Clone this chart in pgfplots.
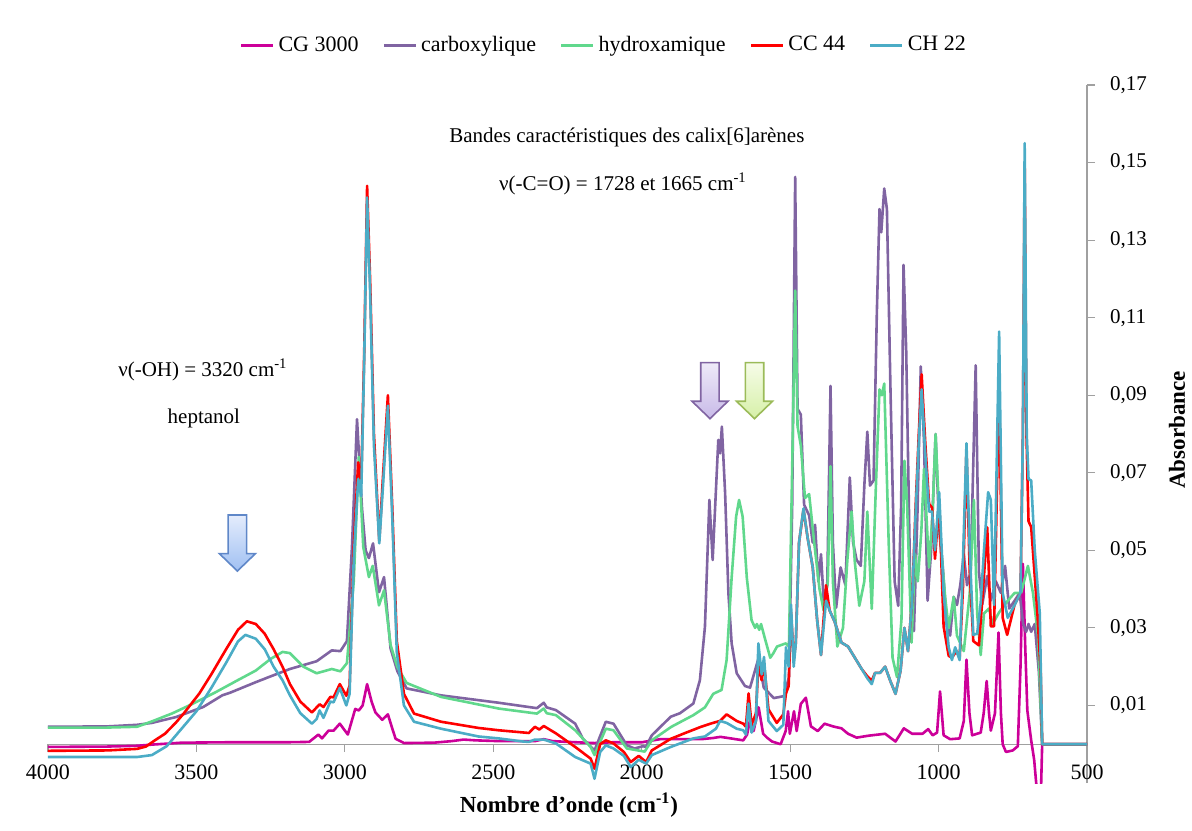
\documentclass[border=0pt]{standalone}
\usepackage{fontspec}
\setmainfont{Liberation Serif}
\usepackage{pgfplots}
\pgfplotsset{compat=1.18}
\definecolor{cg}{RGB}{204,0,153}
\definecolor{carb}{RGB}{128,100,162}
\definecolor{hydro}{RGB}{96,216,140}
\definecolor{cc}{RGB}{255,0,0}
\definecolor{ch}{RGB}{75,172,198}
\definecolor{axisgray}{RGB}{160,160,160}
\definecolor{arBd}{RGB}{95,135,200}\definecolor{arBt}{RGB}{228,236,252}\definecolor{arBb}{RGB}{160,192,242}
\definecolor{arPd}{RGB}{128,100,162}\definecolor{arPt}{RGB}{238,234,248}\definecolor{arPb}{RGB}{200,186,232}
\definecolor{arGd}{RGB}{155,187,89}\definecolor{arGt}{RGB}{246,252,232}\definecolor{arGb}{RGB}{214,240,168}
\begin{document}
\begin{tikzpicture}
\begin{axis}[
  at={(0,0)}, anchor=south west,
  scale only axis, width=519.5pt, height=349pt,
  x dir=reverse, xmin=500, xmax=4000, ymin=-0.01, ymax=0.17,
  enlargelimits=false, clip=true,
  axis x line=middle, axis y line=right,
  axis line style={draw=axisgray, line width=0.6pt, -},
  every inner x axis line/.append style={-},
  every outer y axis line/.append style={-},
  hide obscured x ticks=false,
  tick align=outside, major tick length=4pt,
  tick style={draw=axisgray, line width=0.6pt},
  xtick={500,1000,1500,2000,2500,3000,3500,4000},
  ytick={0.01,0.03,0.05,0.07,0.09,0.11,0.13,0.15,0.17},
  /pgf/number format/assume math mode=true,
  xticklabel style={font=\fontsize{11}{13}\selectfont, /pgf/number format/1000 sep={}, yshift=-3pt},
  yticklabel style={font=\fontsize{10.5}{12}\selectfont, xshift=4pt, /pgf/number format/.cd, use comma, fixed, fixed zerofill, precision=2},
  xlabel={Nombre d’onde (cm\textsuperscript{-1})},
  ylabel={Absorbance},
  every axis x label/.style={at={(axis description cs:0.5014,0)}, anchor=center, yshift=-11pt, font=\fontsize{11.5}{13}\selectfont\bfseries},
  every axis y label/.style={at={([xshift=45pt]axis description cs:1,0.5057)}, anchor=center, rotate=90, font=\fontsize{11.5}{13}\selectfont\bfseries},
  legend style={draw=none, fill=none, legend columns=-1, at={(axis description cs:0.536,1.057)}, anchor=center, font=\fontsize{11}{13}\selectfont, /tikz/every even column/.append style={column sep=10pt}},
  legend image code/.code={\draw[#1, line width=1.3pt] (0pt,0pt) -- (16pt,0pt);},
  every axis plot/.append style={line width=1.3pt, line join=round},
]
% CG 3000
\addplot[cg] coordinates {
(4000,-0.0007) (3800,-0.0006) (3700,-0.0004) (3650,-0.0001) (3550,0.0004) (3400,0.0005) (3200,0.0005) (3120,0.0006)
(3089,0.0025) (3077,0.0015) (3055,0.0035) (3038,0.0035) (3017,0.0053) (2990,0.0025) (2965,0.0091) (2953,0.0087)
(2940,0.010) (2925,0.0155) (2910,0.011) (2897,0.0082) (2874,0.0063) (2855,0.0077) (2840,0.004) (2829,0.0014)
(2800,0.0003) (2700,0.0004) (2640,0.0008) (2600,0.0012) (2560,0.0010) (2480,0.0008) (2360,0.0008) (2330,0.0013)
(2300,0.0008) (2250,0.0006) (2159,0.0003) (2100,0.0005) (2000,0.0005) (1938,0.0013) (1800,0.0013) (1760,0.0016)
(1735,0.0019) (1700,0.0015) (1658,0.001) (1645,0.0025) (1635,0.0063) (1623,0.0034) (1606,0.0095) (1591,0.0027)
(1578,0.0017) (1561,0.0007) (1532,0.0) (1515,0.0034) (1507,0.0085) (1501,0.0027) (1487,0.0085) (1478,0.0034)
(1464,0.0104) (1447,0.012) (1430,0.0046) (1407,0.0034) (1384,0.0053) (1356,0.0046) (1327,0.0041) (1305,0.0027)
(1276,0.0017) (1236,0.0022) (1180,0.0027) (1145,0.0007) (1117,0.0041) (1089,0.0027) (1054,0.0027) (1035,0.0039)
(1020,0.0023) (1005,0.003) (995,0.0136) (983,0.0023) (961,0.0013) (929,0.0015) (915,0.006) (906,0.0218)
(896,0.008) (887,0.0023) (858,0.003) (848,0.008) (838,0.0163) (830,0.008) (824,0.0035) (810,0.008) (798,0.0288)
(790,0.008) (784,0.0) (773,-0.002) (750,-0.0016) (733,-0.0005) (724,0.02) (716,0.0465) (708,0.025) (701,0.0087)
(688,0.001) (678,-0.004) (670,-0.011) (655,-0.012) (651,0) (500,0)
};
\addlegendentry{CG 3000}
% carboxylique
\addplot[carb] coordinates {
(4000,0.0045) (3800,0.0046) (3700,0.005) (3650,0.0055) (3569,0.007) (3477,0.0096) (3413,0.0126) (3386,0.0133)
(3300,0.016) (3250,0.0175) (3185,0.0194) (3095,0.0214) (3044,0.0242) (3015,0.024) (2993,0.0266) (2976,0.0509)
(2959,0.0838) (2942,0.0606) (2930,0.050) (2919,0.048) (2905,0.0518) (2885,0.0392) (2868,0.0431) (2846,0.0247)
(2823,0.0188) (2792,0.0144) (2676,0.0126) (2482,0.0107) (2353,0.0093) (2330,0.0107) (2320,0.0095) (2289,0.0088)
(2224,0.0053) (2198,0.0014) (2159,-0.0016) (2121,0.0058) (2095,0.0053) (2050,-0.0003) (2024,-0.0011) (1995,-0.0005)
(1986,-0.0007) (1966,0.0023) (1902,0.0071) (1871,0.0080) (1826,0.0105) (1804,0.0165) (1787,0.0303) (1772,0.063)
(1761,0.0475) (1742,0.0785) (1736,0.075) (1730,0.0819) (1719,0.0647) (1708,0.039) (1697,0.026) (1680,0.0183)
(1652,0.015) (1635,0.0146) (1606,0.0223) (1589,0.0146) (1555,0.0119) (1521,0.0124) (1504,0.0173) (1493,0.0618)
(1483,0.1463) (1475,0.0865) (1464,0.085) (1453,0.0618) (1436,0.059) (1424,0.052) (1416,0.0566) (1405,0.042)
(1396,0.049) (1387,0.037) (1375,0.041) (1364,0.0924) (1356,0.052) (1345,0.0352) (1330,0.0456) (1314,0.0411)
(1299,0.0688) (1288,0.052) (1276,0.0475) (1262,0.046) (1250,0.0668) (1240,0.0806) (1231,0.0667) (1219,0.068)
(1208,0.111) (1199,0.138) (1193,0.132) (1183,0.1433) (1174,0.138) (1162,0.0915) (1148,0.042) (1136,0.0357)
(1126,0.0618) (1118,0.1236) (1109,0.1014) (1094,0.0349) (1083,0.0292) (1071,0.06) (1060,0.0974) (1049,0.078)
(1037,0.037) (1025,0.05) (1010,0.080) (998,0.055) (986,0.046) (972,0.0304) (961,0.028) (949,0.038) (938,0.0359)
(927,0.041) (915,0.0489) (904,0.041) (892,0.0444) (875,0.0977) (864,0.0444) (853,0.036) (836,0.0434) (824,0.037)
(807,0.042) (790,0.039) (776,0.046) (762,0.035) (744,0.037) (727,0.039) (715,0.031) (705,0.029) (697,0.031)
(688,0.029) (676,0.031) (662,0.0185) (651,0) (500,0)
};
\addlegendentry{carboxylique}
% hydroxamique
\addplot[hydro] coordinates {
(4000,0.0043) (3800,0.0043) (3700,0.0045) (3646,0.006) (3580,0.008) (3516,0.0103) (3438,0.0133) (3361,0.0165)
(3300,0.019) (3250,0.022) (3210,0.0238) (3185,0.0235) (3140,0.020) (3095,0.0183) (3044,0.0194) (3015,0.0188)
(2993,0.0209) (2970,0.042) (2953,0.0741) (2938,0.0509) (2919,0.0431) (2906,0.046) (2885,0.0358) (2868,0.0397)
(2846,0.0256) (2823,0.0199) (2792,0.0158) (2676,0.0122) (2482,0.0092) (2353,0.0079) (2330,0.0092) (2320,0.008)
(2289,0.0075) (2224,0.0036) (2172,-0.0007) (2159,-0.0028) (2121,0.004) (2095,0.0036) (2050,-0.0011) (2020,-0.0015)
(1990,-0.0019) (1966,0.001) (1900,0.0045) (1826,0.0075) (1787,0.0095) (1759,0.013) (1731,0.014) (1714,0.0217)
(1697,0.043) (1682,0.0587) (1672,0.063) (1660,0.0587) (1646,0.043) (1630,0.032) (1618,0.030) (1612,0.031)
(1604,0.0295) (1598,0.031) (1584,0.027) (1567,0.0223) (1557,0.0234) (1544,0.0252) (1515,0.026) (1504,0.0252)
(1493,0.0717) (1483,0.117) (1475,0.082) (1464,0.077) (1450,0.0635) (1436,0.0645) (1419,0.052) (1401,0.040)
(1387,0.0345) (1373,0.042) (1364,0.0717) (1356,0.042) (1341,0.0252) (1322,0.030) (1307,0.0478) (1293,0.060)
(1282,0.0469) (1267,0.0357) (1250,0.042) (1240,0.060) (1225,0.0349) (1211,0.0668) (1199,0.0915) (1191,0.090)
(1183,0.093) (1168,0.052) (1155,0.0223) (1140,0.0173) (1125,0.0322) (1115,0.0731) (1106,0.0618) (1091,0.0262)
(1079,0.049) (1070,0.042) (1058,0.055) (1049,0.071) (1032,0.0456) (1020,0.06) (1010,0.080) (995,0.054) (978,0.038)
(966,0.030) (949,0.038) (938,0.028) (915,0.024) (895,0.039) (881,0.063) (870,0.0337) (858,0.023) (847,0.0337)
(830,0.035) (818,0.031) (796,0.034) (767,0.037) (744,0.039) (722,0.039) (699,0.046) (682,0.039) (665,0.028)
(651,0) (500,0)
};
\addlegendentry{hydroxamique}
% CC 44
\addplot[cc] coordinates {
(4000,-0.0017) (3800,-0.0016) (3700,-0.0012) (3670,-0.0006) (3640,0.001) (3606,0.0027) (3570,0.0055) (3542,0.008)
(3490,0.0131) (3450,0.018) (3400,0.0245) (3360,0.0295) (3330,0.0317) (3300,0.031) (3270,0.0285) (3240,0.0245)
(3210,0.020) (3185,0.0155) (3150,0.011) (3111,0.0082) (3085,0.0103) (3072,0.0096) (3049,0.0122) (3038,0.0121)
(3017,0.0155) (2995,0.0125) (2984,0.0151) (2970,0.0509) (2955,0.0727) (2945,0.0673) (2935,0.10) (2925,0.144)
(2915,0.12) (2902,0.080) (2884,0.0524) (2872,0.0684) (2855,0.090) (2840,0.0606) (2825,0.0266) (2801,0.013)
(2767,0.0079) (2676,0.0058) (2550,0.0042) (2482,0.0036) (2380,0.0029) (2360,0.0045) (2345,0.0038) (2330,0.0047)
(2289,0.0028) (2224,-0.0007) (2172,-0.0037) (2159,-0.0063) (2140,0.0) (2121,0.001) (2095,0.0002) (2060,-0.002)
(2037,-0.0046) (2010,-0.003) (1985,-0.0046) (1966,-0.0016) (1902,0.0014) (1850,0.003) (1800,0.0045) (1760,0.0055)
(1736,0.006) (1714,0.0077) (1700,0.007) (1680,0.006) (1658,0.0053) (1649,0.0045) (1640,0.0131) (1630,0.005)
(1615,0.008) (1607,0.021) (1596,0.0165) (1588,0.021) (1573,0.009) (1545,0.0055) (1523,0.0077) (1514,0.0131)
(1505,0.015) (1497,0.034) (1488,0.022) (1481,0.026) (1470,0.052) (1455,0.0605) (1441,0.0532) (1424,0.0457)
(1409,0.032) (1396,0.023) (1379,0.041) (1367,0.0345) (1350,0.0316) (1327,0.0262) (1305,0.0252) (1282,0.0223)
(1259,0.0194) (1240,0.0175) (1225,0.0164) (1214,0.0184) (1197,0.0184) (1180,0.020) (1163,0.0164) (1145,0.013)
(1128,0.019) (1115,0.030) (1103,0.024) (1089,0.037) (1077,0.0618) (1066,0.081) (1057,0.0954) (1045,0.078)
(1032,0.062) (1022,0.061) (1012,0.0478) (998,0.063) (983,0.0304) (966,0.0228) (955,0.0223) (940,0.024)
(929,0.0223) (918,0.04) (906,0.076) (895,0.0444) (883,0.0266) (864,0.0255) (847,0.0434) (836,0.0559) (824,0.0304)
(813,0.0304) (796,0.0923) (784,0.0326) (769,0.0282) (744,0.036) (724,0.039) (716,0.08) (710,0.150) (704,0.08)
(697,0.0575) (688,0.056) (667,0.0337) (656,0.0185) (651,0) (500,0)
};
\addlegendentry{CC 44}
% CH 22
\addplot[ch] coordinates {
(4000,-0.0033) (3700,-0.0033) (3650,-0.0028) (3600,-0.0005) (3550,0.004) (3500,0.0085) (3450,0.0145) (3400,0.021)
(3360,0.0265) (3335,0.0282) (3300,0.0272) (3270,0.0245) (3240,0.020) (3210,0.0165) (3185,0.0126) (3150,0.008)
(3111,0.0053) (3095,0.0065) (3085,0.0087) (3072,0.0068) (3049,0.011) (3038,0.0108) (3017,0.0145) (2995,0.010)
(2984,0.013) (2970,0.048) (2955,0.0684) (2945,0.064) (2935,0.098) (2925,0.141) (2915,0.117) (2902,0.077)
(2884,0.0518) (2872,0.066) (2855,0.0873) (2840,0.058) (2825,0.0237) (2801,0.010) (2767,0.0058) (2676,0.004)
(2550,0.002) (2482,0.0015) (2400,0.0007) (2380,0.0006) (2360,0.0012) (2330,0.0012) (2289,0.0002) (2224,-0.0033)
(2172,-0.005) (2159,-0.0089) (2140,-0.002) (2121,-0.0003) (2095,-0.0011) (2060,-0.003) (2037,-0.0059) (2010,-0.004)
(1985,-0.005) (1966,-0.0028) (1902,-0.0007) (1826,0.0015) (1787,0.002) (1750,0.004) (1736,0.006) (1714,0.0055)
(1680,0.004) (1658,0.0036) (1649,0.0025) (1640,0.0105) (1630,0.003) (1615,0.006) (1607,0.026) (1596,0.018)
(1588,0.0225) (1573,0.006) (1545,0.0034) (1523,0.005) (1514,0.025) (1505,0.02) (1497,0.036) (1488,0.02)
(1481,0.026) (1470,0.052) (1455,0.0608) (1441,0.0532) (1424,0.0457) (1409,0.032) (1396,0.023) (1379,0.037)
(1367,0.0345) (1350,0.0316) (1327,0.0262) (1305,0.0252) (1282,0.0223) (1259,0.0194) (1240,0.017) (1225,0.0155)
(1214,0.0184) (1197,0.0184) (1180,0.020) (1163,0.0164) (1145,0.013) (1128,0.019) (1115,0.030) (1103,0.024)
(1089,0.037) (1077,0.06) (1066,0.079) (1057,0.0915) (1045,0.0751) (1032,0.060) (1022,0.060) (1012,0.050)
(998,0.065) (983,0.039) (966,0.025) (955,0.0217) (944,0.025) (929,0.0217) (921,0.039) (906,0.0776) (895,0.050)
(883,0.0282) (870,0.0285) (858,0.0366) (847,0.050) (833,0.065) (824,0.063) (813,0.0359) (796,0.1064) (784,0.039)
(767,0.0326) (744,0.0359) (724,0.039) (716,0.08) (710,0.155) (703,0.08) (697,0.0684) (688,0.068) (676,0.050)
(659,0.0337) (651,0) (500,0)
};
\addlegendentry{CH 22}
% annotations
\node[font=\fontsize{10.5}{12}\selectfont] at (axis cs:2050,0.1566) {Bandes caractéristiques des calix[6]arènes};
\node[font=\fontsize{10.5}{12}\selectfont] at (axis cs:2063,0.1445) {ν(-C=O) = 1728 et 1665 cm\textsuperscript{-1}};
\node[font=\fontsize{10.5}{12}\selectfont] at (axis cs:3478,0.0965) {ν(-OH) = 3320 cm\textsuperscript{-1}};
\node[font=\fontsize{10.5}{12}\selectfont] at (axis cs:3475,0.0841) {heptanol};
% block arrows
\draw[draw=arBd, line width=0.8pt, top color=arBt, bottom color=arBb]
 ([shift={(-4.6pt,0pt)}]axis cs:3362,0.0591) -- ([shift={(4.6pt,0pt)}]axis cs:3362,0.0591)
 -- ([shift={(4.6pt,-19.3pt)}]axis cs:3362,0.0591) -- ([shift={(9pt,-19.3pt)}]axis cs:3362,0.0591)
 -- ([shift={(0pt,-28pt)}]axis cs:3362,0.0591) -- ([shift={(-9pt,-19.3pt)}]axis cs:3362,0.0591)
 -- ([shift={(-4.6pt,-19.3pt)}]axis cs:3362,0.0591) -- cycle;
\draw[draw=arPd, line width=0.8pt, top color=arPt, bottom color=arPb]
 ([shift={(-4.6pt,0pt)}]axis cs:1770,0.0984) -- ([shift={(4.6pt,0pt)}]axis cs:1770,0.0984)
 -- ([shift={(4.6pt,-19.3pt)}]axis cs:1770,0.0984) -- ([shift={(9pt,-19.3pt)}]axis cs:1770,0.0984)
 -- ([shift={(0pt,-28pt)}]axis cs:1770,0.0984) -- ([shift={(-9pt,-19.3pt)}]axis cs:1770,0.0984)
 -- ([shift={(-4.6pt,-19.3pt)}]axis cs:1770,0.0984) -- cycle;
\draw[draw=arGd, line width=0.8pt, top color=arGt, bottom color=arGb]
 ([shift={(-4.6pt,0pt)}]axis cs:1620,0.0984) -- ([shift={(4.6pt,0pt)}]axis cs:1620,0.0984)
 -- ([shift={(4.6pt,-19.3pt)}]axis cs:1620,0.0984) -- ([shift={(9pt,-19.3pt)}]axis cs:1620,0.0984)
 -- ([shift={(0pt,-28pt)}]axis cs:1620,0.0984) -- ([shift={(-9pt,-19.3pt)}]axis cs:1620,0.0984)
 -- ([shift={(-4.6pt,-19.3pt)}]axis cs:1620,0.0984) -- cycle;
\end{axis}
\pgfresetboundingbox
\path (-24pt,-23.5pt) rectangle (572pt,391.5pt);
\end{tikzpicture}
\end{document}
